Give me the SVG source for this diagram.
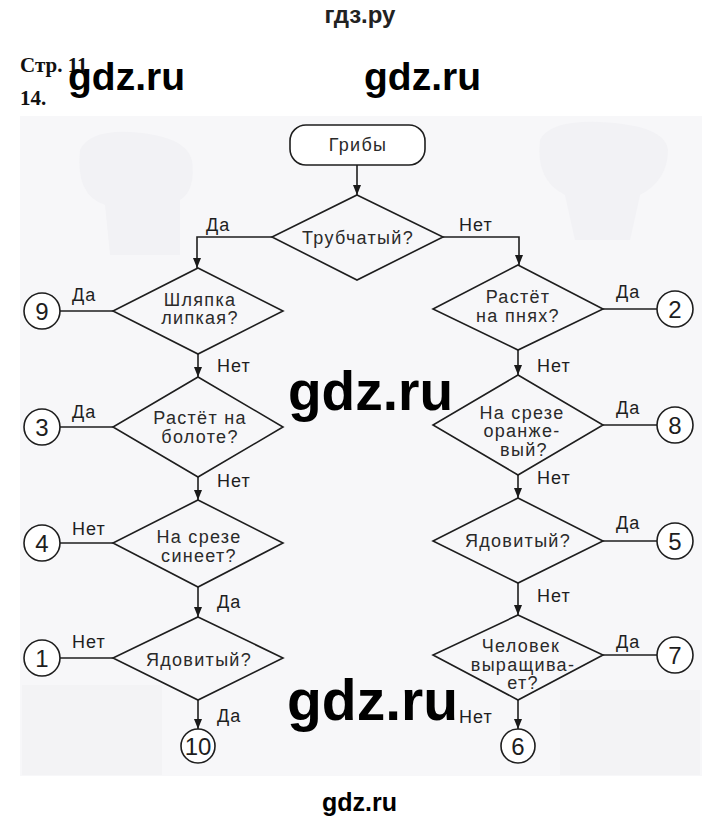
<svg xmlns="http://www.w3.org/2000/svg" width="720" height="822" viewBox="0 0 720 822">
<defs>
<marker id="ah" viewBox="0 0 10 8" refX="10" refY="4" markerWidth="10" markerHeight="8" markerUnits="userSpaceOnUse" orient="auto">
<path d="M0,0 L10,4 L0,8 z" fill="#1a1a1a"/>
</marker>
<style>
.ln{fill:none;stroke:#1e1e1e;stroke-width:1.6}
.ar{fill:none;stroke:#1e1e1e;stroke-width:1.6;marker-end:url(#ah)}
.dm{fill:none;stroke:#1e1e1e;stroke-width:1.6}
.cr{fill:#ffffff;stroke:#1e1e1e;stroke-width:1.6}
.t{font-family:"Liberation Sans",Arial,sans-serif;font-size:18px;letter-spacing:1.3px;fill:#2a2a2a;text-anchor:middle}
.lb{font-family:"Liberation Sans",Arial,sans-serif;font-size:18px;letter-spacing:1px;fill:#1e1e1e}
.nm{font-family:"Liberation Sans",Arial,sans-serif;font-size:24px;fill:#1e1e1e;text-anchor:middle}
.wm{font-family:"Liberation Sans",Arial,sans-serif;font-weight:bold;fill:#000000}
.hd{font-family:"Liberation Serif","Times New Roman",serif;font-weight:bold;font-size:21px;fill:#111111}
</style>
</defs>
<rect x="0" y="0" width="720" height="822" fill="#ffffff"/>
<g id="background">
<rect x="20" y="116" width="682" height="660" fill="#f7f7f9"/>
<path d="M80,150 Q90,130 130,132 Q185,135 192,160 Q196,190 180,200 L180,255 L110,255 L105,205 Q75,195 80,150 z" fill="#f2f2f5"/>
<path d="M540,140 Q550,120 600,122 Q665,125 668,150 Q668,180 640,195 L630,240 L575,240 L565,195 Q535,180 540,140 z" fill="#f2f2f5"/>
<rect x="22" y="685" width="140" height="90" fill="#f3f3f5"/>
<rect x="560" y="690" width="140" height="85" fill="#f3f3f5"/>
</g>
<g id="header">
<text x="360" y="23" font-family="Liberation Sans,Arial,sans-serif" font-weight="bold" font-size="24" fill="#222222" text-anchor="middle">гдз.ру</text>
<text class="hd" x="20" y="72">Стр. 11</text>
<text class="hd" x="20" y="105">14.</text>
</g>
<g id="connectors">
<line class="ar" x1="357" y1="165" x2="357" y2="195"/>
<polyline class="ar" points="272,237 197,237 197,268"/>
<polyline class="ar" points="443,237 519,237 519,265"/>
<line class="ar" x1="198" y1="354" x2="198" y2="377"/>
<line class="ar" x1="198" y1="477" x2="198" y2="500"/>
<line class="ar" x1="198" y1="587" x2="198" y2="617"/>
<line class="ar" x1="198" y1="700" x2="198" y2="729"/>
<line class="ar" x1="518" y1="350" x2="518" y2="375"/>
<line class="ar" x1="518" y1="475" x2="518" y2="498"/>
<line class="ar" x1="518" y1="583" x2="518" y2="615"/>
<line class="ar" x1="518" y1="700" x2="518" y2="729"/>
<line class="ln" x1="60" y1="311" x2="113" y2="311"/>
<line class="ln" x1="60" y1="427" x2="113" y2="427"/>
<line class="ln" x1="60" y1="543" x2="113" y2="543"/>
<line class="ln" x1="60" y1="658" x2="113" y2="658"/>
<line class="ln" x1="603" y1="309" x2="657" y2="309"/>
<line class="ln" x1="603" y1="425" x2="657" y2="425"/>
<line class="ln" x1="603" y1="541" x2="657" y2="541"/>
<line class="ln" x1="603" y1="655" x2="657" y2="655"/>
<text class="lb" x="206" y="231">Да</text>
<text class="lb" x="459" y="231">Нет</text>
<text class="lb" x="72" y="301">Да</text>
<text class="lb" x="72" y="418">Да</text>
<text class="lb" x="72" y="535">Нет</text>
<text class="lb" x="72" y="648">Нет</text>
<text class="lb" x="217" y="372">Нет</text>
<text class="lb" x="217" y="487">Нет</text>
<text class="lb" x="217" y="608">Да</text>
<text class="lb" x="217" y="722">Да</text>
<text class="lb" x="616" y="298">Да</text>
<text class="lb" x="616" y="414">Да</text>
<text class="lb" x="616" y="529">Да</text>
<text class="lb" x="616" y="648">Да</text>
<text class="lb" x="537" y="372">Нет</text>
<text class="lb" x="537" y="484">Нет</text>
<text class="lb" x="537" y="602">Нет</text>
<text class="lb" x="459" y="723">Нет</text>
</g>
<g id="n-griby">
<rect x="290" y="125" width="135" height="40" rx="16" class="cr"/>
<text class="t" x="358" y="151">Грибы</text>
</g>
<g id="n-trubchatyi">
<polygon class="dm" points="357,195 443,237 357,280 272,237"/>
<text class="t" x="358" y="244">Трубчатый?</text>
</g>
<g id="n-shlyapka">
<polygon class="dm" points="198,268 283,311 198,354 113,311"/>
<text class="t" x="200" y="306">Шляпка</text>
<text class="t" x="200" y="324">липкая?</text>
</g>
<g id="n-boloto">
<polygon class="dm" points="198,377 283,427 198,477 113,427"/>
<text class="t" x="200" y="424">Растёт на</text>
<text class="t" x="200" y="443">болоте?</text>
</g>
<g id="n-sineet">
<polygon class="dm" points="198,500 283,543 198,587 113,543"/>
<text class="t" x="199" y="543">На срезе</text>
<text class="t" x="199" y="562">синеет?</text>
</g>
<g id="n-yad-left">
<polygon class="dm" points="198,617 283,658 198,700 113,658"/>
<text class="t" x="199" y="666">Ядовитый?</text>
</g>
<g id="n-pni">
<polygon class="dm" points="518,265 603,309 518,350 433,309"/>
<text class="t" x="518" y="303">Растёт</text>
<text class="t" x="518" y="322">на пнях?</text>
</g>
<g id="n-oranzh">
<polygon class="dm" points="518,375 603,425 518,475 433,425"/>
<text class="t" x="522" y="419">На срезе</text>
<text class="t" x="522" y="437">оранже-</text>
<text class="t" x="524" y="456">вый?</text>
</g>
<g id="n-yad-right">
<polygon class="dm" points="518,498 603,541 518,583 433,541"/>
<text class="t" x="518" y="547">Ядовитый?</text>
</g>
<g id="n-chelovek">
<polygon class="dm" points="518,615 603,655 518,700 433,655"/>
<text class="t" x="521" y="652">Человек</text>
<text class="t" x="523" y="671">выращива-</text>
<text class="t" x="523" y="689">ет?</text>
</g>
<g id="c9"><circle class="cr" cx="42" cy="311" r="18"/><text class="nm" x="42" y="320">9</text></g>
<g id="c3"><circle class="cr" cx="42" cy="427" r="18"/><text class="nm" x="42" y="436">3</text></g>
<g id="c4"><circle class="cr" cx="42" cy="543" r="18"/><text class="nm" x="42" y="552">4</text></g>
<g id="c1"><circle class="cr" cx="42" cy="658" r="18"/><text class="nm" x="42" y="667">1</text></g>
<g id="c10"><circle class="cr" cx="198" cy="746" r="17"/><text class="nm" x="198" y="755">10</text></g>
<g id="c2"><circle class="cr" cx="675" cy="309" r="18"/><text class="nm" x="675" y="318">2</text></g>
<g id="c8"><circle class="cr" cx="675" cy="425" r="18"/><text class="nm" x="675" y="434">8</text></g>
<g id="c5"><circle class="cr" cx="675" cy="541" r="18"/><text class="nm" x="675" y="550">5</text></g>
<g id="c7"><circle class="cr" cx="675" cy="655" r="18"/><text class="nm" x="675" y="664">7</text></g>
<g id="c6"><circle class="cr" cx="518" cy="746" r="17"/><text class="nm" x="518" y="755">6</text></g>
<g id="watermarks">
<text class="wm" x="68" y="90" font-size="39">gdz.ru</text>
<text class="wm" x="364" y="90" font-size="39">gdz.ru</text>
<text class="wm" x="288" y="410" font-size="55">gdz.ru</text>
<text class="wm" x="287" y="720" font-size="57">gdz.ru</text>
<text class="wm" x="322" y="811" font-size="25">gdz.ru</text>
</g>
</svg>
